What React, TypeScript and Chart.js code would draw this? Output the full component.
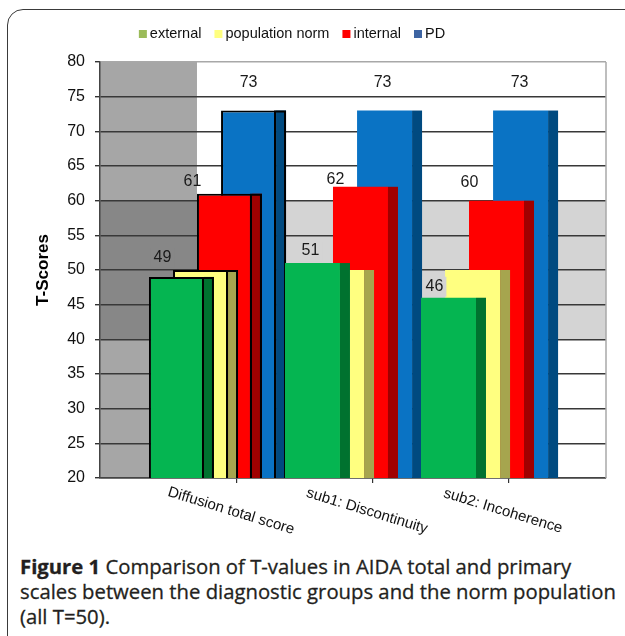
import React, { useEffect, useRef } from "react";
import { Chart, registerables } from "chart.js";

Chart.register(...registerables);

// ---------- data ----------
const categories = ["Diffusion total score", "sub1: Discontinuity", "sub2: Incoherence"];
const seriesNames = ["external", "population norm", "internal", "PD"];
const externalValues = [49, 51, 46];
const populationNormValues = [50, 50, 50];
const internalValues = [61, 62, 60];
const pdValues = [73, 73, 73];
const yMin = 20;
const yMax = 80;
const yStep = 5;

// ---------- styles ----------
const FONT = "'Liberation Sans', Arial, Helvetica, sans-serif";
const FRONT_COLORS = ["#05b551", "#ffff80", "#ff0000", "#0a73c4"];
const SIDE_COLORS = ["#00722f", "#a6a54e", "#a00000", "#004a80"];
const LEGEND_COLORS = ["#9bbb59", "#ffff80", "#ff0000", "#3d64a2"];
const SERIES_SHIFT = [-0.445, -0.268, -0.092, 0.085]; // x-scale units from category tick
const DRAW_ORDER = [0, 1, 2, 3]; // lower = drawn on top
const SHOW_LABEL = [true, false, true, true];
const LABEL_NUDGE: (number[][] | null)[] = [
  [[-14, -19], [-2, -12], [-14, -11]],
  null,
  [[-32, -12], [-25, -7], [-27, -18]],
  [[0, -28], [-2, -28], [-1, -28]],
];
const CAT_BORDER = [2, 0, 0];
const SIDE_DEPTH = 10;
const WALL_END = -0.294; // x-scale units
const X_MIN = -1.007;
const X_MAX = 2.713;
const LEGEND_CENTER_X = 292;

const seriesValues = [externalValues, populationNormValues, internalValues, pdValues];

const backgroundPlugin = {
  id: "bgBands",
  beforeDraw(chart: any) {
    const { ctx, chartArea: a, scales } = chart;
    const y = scales.y;
    const x = scales.x;
    const y60 = y.getPixelForValue(60);
    const y40 = y.getPixelForValue(40);
    const wallX = x.getPixelForValue(WALL_END);
    ctx.save();
    ctx.fillStyle = "#ffffff";
    ctx.fillRect(a.left, a.top, a.right - a.left, a.bottom - a.top);
    ctx.fillStyle = "#d4d4d4";
    ctx.fillRect(a.left, y60, a.right - a.left, y40 - y60);
    ctx.fillStyle = "#a6a6a6";
    ctx.fillRect(a.left, a.top, wallX - a.left, a.bottom - a.top);
    ctx.fillStyle = "#878787";
    ctx.fillRect(a.left, y60, wallX - a.left, y40 - y60);
    ctx.restore();
  },
};

const sidePlugin = {
  id: "sideFaces",
  afterDatasetDraw(chart: any, args: any) {
    const ds = args.index;
    const meta = args.meta;
    const { ctx, chartArea: a } = chart;
    ctx.save();
    ctx.beginPath();
    ctx.rect(a.left, a.top, a.right - a.left, a.bottom - a.top);
    ctx.clip();
    meta.data.forEach((el: any, i: number) => {
      const p = el.getProps(["x", "y", "base", "width"], true);
      const x0 = p.x + p.width / 2;
      const top = Math.min(p.y, p.base);
      const h = Math.abs(p.base - p.y);
      ctx.fillStyle = SIDE_COLORS[ds];
      ctx.fillRect(x0, top, SIDE_DEPTH, h);
      if (CAT_BORDER[i] > 0) {
        ctx.strokeStyle = "#000";
        ctx.lineWidth = CAT_BORDER[i];
        ctx.beginPath();
        ctx.moveTo(x0 - 1, p.base);
        ctx.lineTo(x0 - 1, top + 1);
        ctx.lineTo(x0 + SIDE_DEPTH - 1, top + 1);
        ctx.lineTo(x0 + SIDE_DEPTH - 1, p.base);
        ctx.stroke();
      }
    });
    ctx.restore();
  },
};

const labelPlugin = {
  id: "valueLabels",
  afterDatasetsDraw(chart: any) {
    const { ctx, scales } = chart;
    const wallX = scales.x.getPixelForValue(WALL_END);
    ctx.save();
    ctx.font = `16px ${FONT}`;
    ctx.textAlign = "center";
    ctx.textBaseline = "middle";
    seriesValues.forEach((vals, s) => {
      if (!SHOW_LABEL[s]) return;
      const meta = chart.getDatasetMeta(s);
      meta.data.forEach((el: any, i: number) => {
        const p = el.getProps(["x", "y"], true);
        const nudge = LABEL_NUDGE[s] ? LABEL_NUDGE[s]![i] : [0, -12];
        const lx = p.x + nudge[0];
        const ly = p.y + nudge[1];
        const txt = String(vals[i]);
        const v = scales.y.getValueForPixel(ly);
        if (v >= 40 && v <= 60) {
          const w = ctx.measureText(txt).width + 6;
          ctx.fillStyle = lx < wallX ? "#878787" : "#d4d4d4";
          ctx.fillRect(lx - w / 2, ly - 10, w, 20);
        }
        ctx.fillStyle = "#1a1a1a";
        ctx.fillText(txt, lx, ly);
      });
    });
    ctx.restore();
  },
};

const decorPlugin = {
  id: "decor",
  afterDraw(chart: any) {
    const { ctx, chartArea: a, scales } = chart;
    ctx.save();
    // right border of plot area
    ctx.strokeStyle = "#a8a8a8";
    ctx.lineWidth = 1.5;
    ctx.beginPath();
    ctx.moveTo(a.right, a.top);
    ctx.lineTo(a.right, a.bottom);
    ctx.stroke();

    // category labels rotated clockwise
    ctx.font = `15px ${FONT}`;
    ctx.fillStyle = "#111";
    ctx.textAlign = "center";
    ctx.textBaseline = "middle";
    categories.forEach((c, i) => {
      const px = scales.x.getPixelForValue(i);
      ctx.save();
      ctx.translate(px - 6, a.bottom + 33);
      ctx.rotate((17 * Math.PI) / 180);
      ctx.fillText(c, 0, 0);
      ctx.restore();
    });

    // legend
    ctx.font = `14.5px ${FONT}`;
    ctx.textAlign = "left";
    ctx.textBaseline = "middle";
    const box = 8;
    const gapBoxText = 3;
    const gapItems = 13;
    const widths = seriesNames.map((n) => box + gapBoxText + ctx.measureText(n).width);
    const total = widths.reduce((s, w) => s + w, 0) + gapItems * (seriesNames.length - 1);
    let x = LEGEND_CENTER_X - total / 2;
    const ly = 34;
    seriesNames.forEach((n, i) => {
      ctx.fillStyle = LEGEND_COLORS[i];
      ctx.fillRect(x, ly - 4, box, box);
      ctx.fillStyle = "#111";
      ctx.fillText(n, x + box + gapBoxText, ly);
      x += widths[i] + gapItems;
    });
    ctx.restore();
  },
};

function ChartCanvas() {
  const ref = useRef<HTMLCanvasElement | null>(null);
  useEffect(() => {
    if (!ref.current) return;
    Chart.defaults.font.family = FONT;
    Chart.defaults.color = "#111";
    const datasets = seriesNames.map((name, s) => ({
      label: name,
      data: seriesValues[s].map((v, i) => ({ x: i + SERIES_SHIFT[s], y: v })),
      backgroundColor: FRONT_COLORS[s],
      borderColor: "#000",
      borderWidth: CAT_BORDER,
      borderSkipped: "start",
      grouped: false,
      barPercentage: 3,
      maxBarThickness: 55,
      order: DRAW_ORDER[s],
    }));
    const chart = new Chart(ref.current, {
      type: "bar",
      data: { datasets: datasets as any },
      options: {
        responsive: false,
        animation: false,
        devicePixelRatio: 1,
        layout: { padding: { top: 62, left: 30, right: 19, bottom: 0 } },
        plugins: { legend: { display: false }, tooltip: { enabled: false } },
        scales: {
          x: {
            type: "linear",
            min: X_MIN,
            max: X_MAX,
            offset: false,
            afterBuildTicks: (s: any) => {
              s.ticks = categories.map((_, i) => ({ value: i }));
            },
            afterFit: (s: any) => {
              s.height = 67;
            },
            ticks: { display: false },
            grid: {
              offset: false,
              drawOnChartArea: false,
              drawTicks: true,
              tickLength: 5,
              color: "#333",
              lineWidth: 1.2,
            },
            border: { display: true, color: "#444", width: 1.5 },
          },
          y: {
            type: "linear",
            min: yMin,
            max: yMax,
            ticks: { stepSize: yStep, padding: 10, font: { size: 16 }, color: "#111" },
            afterFit: (s: any) => {
              s.width = 70;
            },
            grid: {
              color: (c: any) => (c.tick && c.tick.value === yMax ? "#a8a8a8" : "#383838"),
              tickColor: "#333",
              lineWidth: 1.4,
              tickLength: 5,
            },
            border: { display: true, color: "#444", width: 1.5 },
            title: {
              display: true,
              text: "T-Scores",
              font: { size: 17, weight: "bold" },
              color: "#000",
              padding: { top: 3, bottom: 0 },
            },
          },
        },
      } as any,
      plugins: [backgroundPlugin, sidePlugin, labelPlugin, decorPlugin],
    });
    return () => chart.destroy();
  }, []);
  return (
    <canvas
      ref={ref}
      width={625}
      height={545}
      style={{ position: "absolute", left: 0, top: 0, width: 625, height: 545 }}
    />
  );
}

export default function App() {
  return (
    <div
      style={{
        position: "absolute",
        left: 0,
        top: 0,
        width: 625,
        height: 636,
        overflow: "hidden",
        background: "#fff",
      }}
    >
      <div
        style={{
          position: "absolute",
          left: 7,
          top: 9,
          width: 680,
          height: 680,
          border: "1.5px solid #3a3a3a",
          borderRadius: 16,
          boxSizing: "border-box",
        }}
      />
      <ChartCanvas />
      <div
        style={{
          position: "absolute",
          left: 20,
          top: 554,
          fontFamily: "'Open Sans', sans-serif",
          fontSize: 20.3,
          lineHeight: "25px",
          color: "#231f20",
          whiteSpace: "nowrap",
          WebkitTextStroke: "0.3px #231f20",
        }}
      >
        <b>Figure 1</b> Comparison of T-values in AIDA total and primary
        <br />
        scales between the diagnostic groups and the norm population
        <br />
        (all T=50).
      </div>
    </div>
  );
}
